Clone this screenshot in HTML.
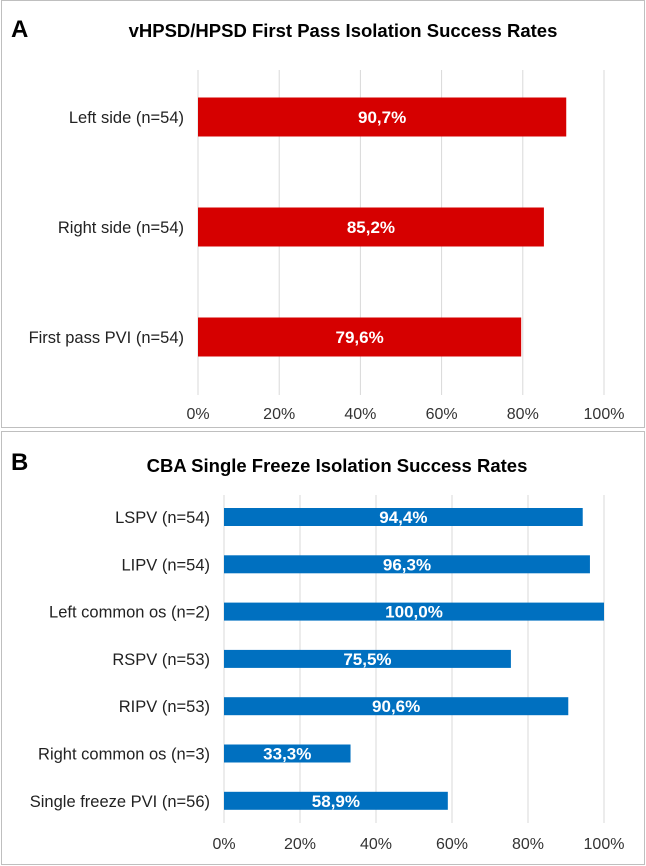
<!DOCTYPE html>
<html><head><meta charset="utf-8"><style>
body{margin:0;background:#fff;font-family:"Liberation Sans",Arial,sans-serif;}
svg{display:block}
</style></head><body>
<svg width="646" height="866">
<rect x="1.5" y="0.5" width="643" height="427" fill="#fff" stroke="#bfbfbf"/>
<rect x="1.5" y="431.5" width="643" height="433" fill="#fff" stroke="#bfbfbf"/>
<text x="11" y="37" font-size="24" font-weight="bold">A</text>
<text x="343" y="37" font-size="18.5" font-weight="bold" text-anchor="middle">vHPSD/HPSD First Pass Isolation Success Rates</text>
<text x="11" y="470" font-size="24" font-weight="bold">B</text>
<text x="337" y="472" font-size="18.5" font-weight="bold" text-anchor="middle">CBA Single Freeze Isolation Success Rates</text>
<g id="ca"></g><g id="cb"></g>
</svg>
<script>
const catsA=["Left side (n=54)","Right side (n=54)","First pass PVI (n=54)"];
const valsA=[90.7,85.2,79.6];
const catsB=["LSPV (n=54)","LIPV (n=54)","Left common os (n=2)","RSPV (n=53)","RIPV (n=53)","Right common os (n=3)","Single freeze PVI (n=56)"];
const valsB=[94.4,96.3,100.0,75.5,90.6,33.3,58.9];
const ticks=[0,20,40,60,80,100];
const NS="http://www.w3.org/2000/svg";
function mk(tag,at,parent,txt){const e=document.createElementNS(NS,tag);for(const k in at)e.setAttribute(k,at[k]);if(txt!=null)e.textContent=txt;parent.appendChild(e);return e;}
function chart(g,cats,vals,o,prefix){
 const xs=v=>o.x0+(o.x1-o.x0)*v/100;
 const ys=i=>o.yFirst+i*o.step;
 ticks.forEach(t=>{
  const l=mk('line',{x1:xs(t),x2:xs(t),y1:o.gTop,y2:o.gBot,stroke:'#d9d9d9','stroke-width':1},g);
  
  
  const tx=mk('text',{x:xs(t),y:o.tickY,'font-size':16,'text-anchor':'middle',fill:'#333'},g,t+'%');
  
  
 });
 cats.forEach((c,i)=>{
  const cy=ys(i);
  const r=mk('rect',{x:xs(0),y:cy-o.bh/2,width:xs(vals[i])-xs(0),height:o.bh,fill:o.color},g);
  
  
  const lb=mk('text',{x:o.x0-14,y:cy+6,'font-size':16.5,'text-anchor':'end',fill:'#222'},g,c);
  
  
  const vl=mk('text',{x:(xs(0)+xs(vals[i]))/2,y:cy+6,'font-size':17,'font-weight':'bold','text-anchor':'middle',fill:'#fff'},g,vals[i].toFixed(1).replace('.',',')+'%');
  
  
 });
}
chart(document.getElementById('ca'),catsA,valsA,{x0:198,x1:604,yFirst:117,step:110,bh:39,gTop:70,gBot:395,tickY:419,color:'#d60000'},'a');
chart(document.getElementById('cb'),catsB,valsB,{x0:224,x1:604,yFirst:517,step:47.3,bh:18,gTop:495,gBot:823,tickY:849,color:'#0070c0'},'b');
</script>
</body></html>
